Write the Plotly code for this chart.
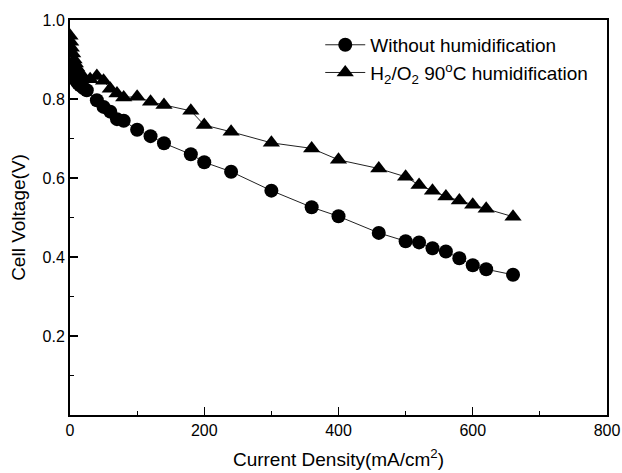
import plotly.graph_objects as go

# Data
x_dry = [0, 2, 4, 6, 8, 10, 12, 15, 20, 25, 40, 50, 60, 70, 80, 100, 120, 140, 180, 200,
         240, 300, 360, 400, 460, 500, 520, 540, 560, 580, 600, 620, 660]
v_dry = [0.885, 0.872, 0.862, 0.855, 0.850, 0.845, 0.840, 0.835, 0.828, 0.822, 0.797, 0.780,
         0.768, 0.749, 0.745, 0.722, 0.706, 0.688, 0.660, 0.640, 0.616, 0.568, 0.526,
         0.503, 0.461, 0.440, 0.437, 0.422, 0.414, 0.397, 0.379, 0.369, 0.355]

x_hum = [0, 1, 2, 4, 6, 8, 10, 12, 15, 20, 30, 40, 50, 60, 70, 80, 100, 120, 140, 180,
         200, 240, 300, 360, 400, 460, 500, 520, 540, 560, 580, 600, 620, 660]
v_hum = [0.960, 0.945, 0.930, 0.915, 0.900, 0.890, 0.880, 0.870, 0.864, 0.856, 0.850,
         0.858, 0.846, 0.826, 0.814, 0.804, 0.806, 0.793, 0.785, 0.770, 0.734, 0.717,
         0.689, 0.675, 0.646, 0.624, 0.603, 0.582, 0.568, 0.553, 0.543, 0.532, 0.522, 0.502]

x_ticks = [0, 200, 400, 600, 800]
y_ticks = [0.2, 0.4, 0.6, 0.8, 1.0]
y_tick_labels = ["0.2", "0.4", "0.6", "0.8", "1.0"]

series_names = ["Without humidification", "H<sub>2</sub>/O<sub>2</sub> 90<sup>o</sup>C humidification"]

FONT = "Liberation Sans, Arial, sans-serif"

fig = go.Figure()
fig.add_trace(go.Scatter(
    x=x_dry, y=v_dry, mode="lines+markers", name=series_names[0],
    line=dict(color="#222222", width=1),
    marker=dict(symbol="circle", size=14, color="black"),
))
fig.add_trace(go.Scatter(
    x=x_hum, y=v_hum, mode="lines+markers", name=series_names[1],
    line=dict(color="#222222", width=1),
    marker=dict(symbol="triangle-up", size=15, color="black"),
))

fig.update_layout(
    width=622, height=473,
    margin=dict(l=70, r=15, t=20, b=58, autoexpand=False),
    paper_bgcolor="white", plot_bgcolor="white",
    font=dict(family=FONT, size=16, color="black"),
    showlegend=True,
    legend=dict(
        x=0.466, y=0.985, xanchor="left", yanchor="top",
        bgcolor="rgba(0,0,0,0)", font=dict(size=19, family=FONT),
        itemwidth=40, tracegroupgap=0,
    ),
    xaxis=dict(
        range=[0, 800], tickvals=x_ticks, ticks="inside", ticklen=8, tickwidth=1.2,
        tickcolor="black",
        minor=dict(dtick=100, tick0=0, ticks="inside", ticklen=4, tickwidth=1.2, tickcolor="black"),
        showline=True, linecolor="black", linewidth=2, mirror=True,
        showgrid=False, zeroline=False, automargin=False,
        title=dict(text="Current Density(mA/cm<sup>2</sup>)", font=dict(size=19), standoff=14),
        tickfont=dict(size=16),
    ),
    yaxis=dict(
        range=[0, 1.0], tickvals=y_ticks, ticktext=y_tick_labels, ticks="inside",
        ticklen=8, tickwidth=1.2, tickcolor="black",
        minor=dict(dtick=0.1, tick0=0, ticks="inside", ticklen=4, tickwidth=1.2, tickcolor="black"),
        showline=True, linecolor="black", linewidth=2, mirror=True,
        showgrid=False, zeroline=False, automargin=False,
        title=dict(text="Cell Voltage(V)", font=dict(size=19), standoff=12),
        tickfont=dict(size=16),
    ),
)

# remove the default 8px page margin so the 622x473 figure fills the window
fig.write_html(
    "out.html",
    config={"displayModeBar": False, "staticPlot": True},
    post_script="document.body.style.margin='0';document.body.style.overflow='hidden';",
)
